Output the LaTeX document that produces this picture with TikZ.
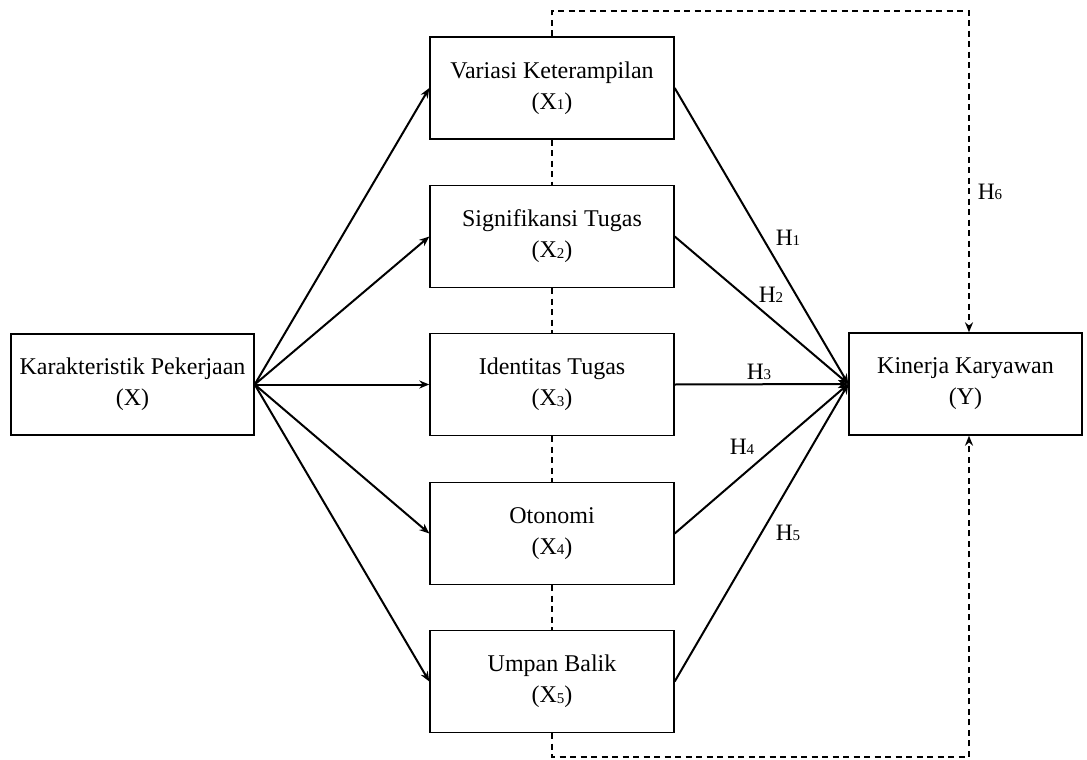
\documentclass[tikz,border=0pt]{standalone}
\usepackage{fontspec}
\setmainfont{Liberation Serif}
\usetikzlibrary{arrows.meta,calc}
\newcommand\sbd[1]{\raisebox{-0.5bp}{\fontsize{15bp}{15bp}\selectfont #1}}
\begin{document}
\begin{tikzpicture}[x=1bp,y=-1bp,
  box/.style={draw, line width=1.4bp, align=center, inner sep=0pt,
    font=\fontsize{24bp}{31bp}\selectfont},
  midbox/.style={box, minimum width=244bp, minimum height=102bp},
  arr/.style={line width=2bp, -{Stealth[length=10bp,width=8bp]}},
  dline/.style={line width=2bp, dash pattern=on 6bp off 4.5bp},
  darr/.style={dline, -{Stealth[length=10bp,width=8bp]}},
  hlab/.style={font=\fontsize{23.5bp}{23.5bp}\selectfont, inner sep=0pt}]
\useasboundingbox (0,0) rectangle (1087,760);
\node[box, minimum width=243bp, minimum height=101bp] (X) at (132.5,384.5) {Karakteristik Pekerjaan\\(X)};
\node[midbox] (X1) at (552,88) {Variasi Keterampilan\\(X\sbd{1})};
\node[midbox] (X2) at (552,236.5) {Signifikansi Tugas\\(X\sbd{2})};
\node[midbox] (X3) at (552,384.5) {Identitas Tugas\\(X\sbd{3})};
\node[midbox] (X4) at (552,533.5) {Otonomi\\(X\sbd{4})};
\node[midbox] (X5) at (552,681.5) {Umpan Balik\\(X\sbd{5})};
\node[box, minimum width=233bp, minimum height=102bp] (Y) at (965.5,384) {Kinerja Karyawan\\(Y)};
% arrows from X
\foreach \i in {1,...,5} {\draw[arr] (X.east) -- (X\i.west);}
% arrows into Y
\foreach \i in {1,...,5} {\draw[arr] (X\i.east) -- (Y.west);}
% dashed links between middle boxes
\draw[dline] (X1.south) -- (X2.north);
\draw[dline] (X2.south) -- (X3.north);
\draw[dline] (X3.south) -- (X4.north);
\draw[dline] (X4.south) -- (X5.north);
% dashed loops
\coordinate (tl) at (552,11);
\coordinate (tr) at (969,11);
\coordinate (bl) at (552,757);
\coordinate (br) at (969,757);
\draw[darr] (X1.north) -- (tl) -- (tr) -- (Y.north -| tr);
\draw[darr] (X5.south) -- (bl) -- (br) -- (Y.south -| br);
% labels
\node[hlab] (h1) at (788,238) {H\sbd{1}};
\node[hlab] (h2) at (771,295) {H\sbd{2}};
\node[hlab] (h3) at (759,372) {H\sbd{3}};
\node[hlab] (h4) at (742,447) {H\sbd{4}};
\node[hlab] (h5) at (788,533) {H\sbd{5}};
\node[hlab] (h6) at (990,192) {H\sbd{6}};
\end{tikzpicture}
\end{document}
